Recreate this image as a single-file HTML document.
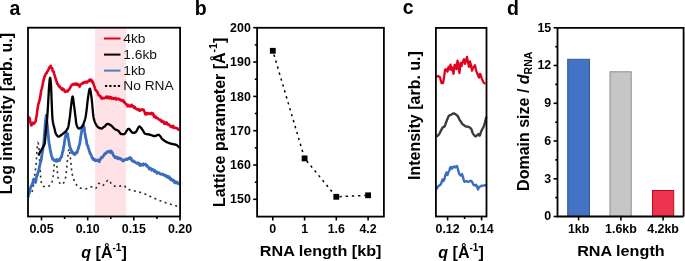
<!DOCTYPE html>
<html><head><meta charset="utf-8"><style>
html,body{margin:0;padding:0;background:#fff;}
svg{display:block;will-change:transform;filter:blur(0.3px);font-family:"Liberation Sans", sans-serif;}
</style></head><body>
<svg width="685" height="261" viewBox="0 0 685 261">
<rect x="95.1" y="27.7" width="30.9" height="188.8" fill="#fee2e5"/>
<polyline points="32.00,192.00 32.30,190.98 32.60,189.74 32.90,188.31 33.20,186.72 33.50,185.00 33.80,183.01 34.10,180.68 34.40,178.14 34.70,175.53 35.00,173.00 35.30,170.73 35.60,168.56 35.90,166.11 36.20,163.00 36.50,157.82 36.80,152.65 37.10,148.46 37.40,145.96 37.70,143.99 38.00,142.88 38.30,143.24 38.60,145.19 38.90,148.00 39.20,153.05 39.50,158.78 39.80,164.19 40.10,169.32 40.40,173.66 40.70,177.41 41.00,180.06 41.30,182.19 41.60,183.93 41.90,185.02 42.20,185.44 42.50,185.73 42.80,185.97 43.10,186.16 43.40,186.30 43.70,186.42 44.00,186.50 44.30,186.57 44.60,186.64 44.90,186.70 45.20,186.76 45.50,186.81 45.80,186.85 46.10,186.88 46.40,186.89 46.70,186.90 47.00,186.88 47.30,186.81 47.60,186.71 47.90,186.58 48.20,186.43 48.50,186.27 48.80,186.11 49.10,185.95 49.40,185.79 49.70,185.61 50.00,185.42 50.30,185.20 50.60,184.95 50.90,184.64 51.20,184.28 51.50,183.83 51.80,183.04 52.10,181.90 52.40,180.46 52.70,178.80 53.00,176.90 53.30,174.06 53.60,171.00 53.90,167.88 54.20,165.10 54.50,163.55 54.80,162.28 55.10,161.33 55.40,160.84 55.70,160.94 56.00,161.61 56.30,162.69 56.60,164.00 56.90,166.40 57.20,169.88 57.50,173.00 57.80,175.51 58.10,177.89 58.40,179.75 58.70,180.75 59.00,181.46 59.30,182.11 59.60,182.69 59.90,183.20 60.20,183.64 60.50,184.00 60.80,184.28 61.10,184.47 61.40,184.58 61.70,184.59 62.00,184.50 62.30,184.30 62.60,184.03 62.90,183.71 63.20,183.36 63.50,183.00 63.80,182.62 64.10,182.18 64.40,181.64 64.70,180.99 65.00,180.20 65.30,179.08 65.60,177.26 65.90,175.03 66.20,172.72 66.50,170.10 66.80,167.20 67.10,163.81 67.40,160.50 67.70,157.84 68.00,155.47 68.30,153.22 68.60,150.68 68.90,148.94 69.20,149.22 69.50,151.00 69.80,153.29 70.10,155.43 70.40,157.84 70.70,160.50 71.00,163.62 71.30,166.80 71.60,169.78 71.90,172.37 72.20,174.02 72.50,175.33 72.80,176.42 73.10,177.37 73.40,178.24 73.70,179.08 74.00,179.91 74.30,180.71 74.60,181.47 74.90,182.18 75.20,182.82 75.50,183.38 75.80,183.86 76.10,184.26 76.40,184.65 76.70,185.02 77.00,185.39 77.30,185.73 77.60,186.06 77.90,186.38 78.20,186.67 78.50,186.94 78.80,187.19 79.10,187.41 79.40,187.61 79.70,187.78 80.00,187.92 80.30,188.03 80.60,188.10 80.90,188.16 81.20,188.21 81.50,188.26 81.80,188.31 82.10,188.36 82.40,188.40 82.70,188.44 83.00,188.48 83.30,188.52 83.60,188.55 83.90,188.58 84.20,188.61 84.50,188.63 84.80,188.65 85.10,188.67 85.40,188.68 85.70,188.69 86.00,188.70 86.30,188.70 86.60,188.69 86.90,188.64 87.20,188.56 87.50,188.45 87.80,188.32 88.10,188.16 88.40,188.00 88.70,187.83 89.00,187.66 89.30,187.49 89.60,187.33 89.90,187.19 90.20,187.07 90.50,186.98 90.80,186.92 91.10,186.90 91.40,186.92 91.70,186.98 92.00,187.07 92.30,187.19 92.60,187.33 92.90,187.48 93.20,187.65 93.50,187.81 93.80,187.97 94.10,188.12 94.40,188.25 94.70,188.36 95.00,188.44 95.30,188.49 95.60,188.49 95.90,188.28 96.20,187.87 96.50,187.32 96.80,186.66 97.10,185.95 97.40,185.24 97.70,184.58 98.00,184.03 98.30,183.62 98.60,183.41 98.90,183.42 99.20,183.53 99.50,183.72 99.80,183.96 100.10,184.24 100.40,184.55 100.70,184.86 101.00,185.15 101.30,185.41 101.60,185.61 101.90,185.75 102.20,185.80 102.50,185.74 102.80,185.56 103.10,185.29 103.40,184.96 103.70,184.57 104.00,184.15 104.30,183.72 104.60,183.30 104.90,182.92 105.20,182.58 105.50,182.32 105.80,182.06 106.10,181.79 106.40,181.52 106.70,181.25 107.00,180.99 107.30,180.75 107.60,180.53 107.90,180.34 108.20,180.19 108.50,180.08 108.80,180.01 109.10,180.01 109.40,180.21 109.70,180.59 110.00,181.11 110.30,181.74 110.60,182.41 110.90,183.08 111.20,183.70 111.50,184.24 111.80,184.64 112.10,184.86 112.40,185.03 112.70,185.19 113.00,185.35 113.30,185.50 113.60,185.65 113.90,185.78 114.20,185.91 114.50,186.02 114.80,186.13 115.10,186.23 115.40,186.32 115.70,186.39 116.00,186.46 116.30,186.51 116.60,186.55 116.90,186.58 117.20,186.60 117.50,186.60 117.80,186.58 118.10,186.55 118.40,186.51 118.70,186.46 119.00,186.39 119.30,186.32 119.60,186.23 119.90,186.15 120.20,186.06 120.50,185.97 120.80,185.88 121.10,185.79 121.40,185.71 121.70,185.63 122.00,185.57 122.30,185.51 122.60,185.46 122.90,185.42 123.20,185.40 123.50,185.41 123.80,185.48 124.10,185.64 124.40,185.86 124.70,186.13 125.00,186.45 125.30,186.79 125.60,187.16 125.90,187.52 126.20,187.88 126.50,188.21 126.80,188.51 127.10,188.76 127.40,188.95 127.70,189.09 128.00,189.21 128.30,189.32 128.60,189.43 128.90,189.53 129.20,189.63 129.50,189.72 129.80,189.80 130.10,189.88 130.40,189.96 130.70,190.04 131.00,190.11 131.30,190.18 131.60,190.25 131.90,190.32 132.20,190.39 132.50,190.46 132.80,190.53 133.10,190.60 133.40,190.67 133.70,190.75 134.00,190.83 134.30,190.90 134.60,190.97 134.90,191.04 135.20,191.11 135.50,191.18 135.80,191.25 136.10,191.32 136.40,191.39 136.70,191.46 137.00,191.53 137.30,191.60 137.60,191.67 137.90,191.74 138.20,191.82 138.50,191.89 138.80,191.97 139.10,192.05 139.40,192.14 139.70,192.22 140.00,192.31 140.30,192.39 140.60,192.48 140.90,192.57 141.20,192.66 141.50,192.75 141.80,192.84 142.10,192.94 142.40,193.03 142.70,193.13 143.00,193.23 143.30,193.34 143.60,193.44 143.90,193.55 144.20,193.66 144.50,193.78 144.80,193.90 145.10,194.03 145.40,194.16 145.70,194.30 146.00,194.44 146.30,194.59 146.60,194.74 146.90,194.88 147.20,195.03 147.50,195.18 147.80,195.33 148.10,195.47 148.40,195.62 148.70,195.76 149.00,195.89 149.30,196.02 149.60,196.16 149.90,196.29 150.20,196.43 150.50,196.56 150.80,196.70 151.10,196.83 151.40,196.97 151.70,197.10 152.00,197.24 152.30,197.37 152.60,197.51 152.90,197.64 153.20,197.78 153.50,197.91 153.80,198.05 154.10,198.18 154.40,198.31 154.70,198.45 155.00,198.58 155.30,198.71 155.60,198.84 155.90,198.97 156.20,199.10 156.50,199.23 156.80,199.36 157.10,199.49 157.40,199.62 157.70,199.74 158.00,199.87 158.30,200.00 158.60,200.12 158.90,200.24 159.20,200.37 159.50,200.49 159.80,200.61 160.10,200.73 160.40,200.85 160.70,200.96 161.00,201.08 161.30,201.20 161.60,201.31 161.90,201.42 162.20,201.53 162.50,201.64 162.80,201.75 163.10,201.86 163.40,201.97 163.70,202.07 164.00,202.17 164.30,202.28 164.60,202.38 164.90,202.48 165.20,202.58 165.50,202.69 165.80,202.79 166.10,202.89 166.40,202.99 166.70,203.09 167.00,203.19 167.30,203.28 167.60,203.38 167.90,203.48 168.20,203.57 168.50,203.67 168.80,203.76 169.10,203.86 169.40,203.95 169.70,204.05 170.00,204.14 170.30,204.23 170.60,204.32 170.90,204.41 171.20,204.50 171.50,204.59 171.80,204.68 172.10,204.77 172.40,204.85 172.70,204.94 173.00,205.02 173.30,205.11 173.60,205.19 173.90,205.27 174.20,205.36 174.50,205.44 174.80,205.52 175.10,205.60 175.40,205.68 175.70,205.76 176.00,205.83 176.30,205.91 176.60,205.99 176.90,206.06 177.20,206.14 177.50,206.21 177.80,206.28 178.10,206.35" fill="none" stroke="#2a2a2a" stroke-width="1.6" stroke-dasharray="2 3.5"/>
<polyline points="28.20,197.02 28.70,193.58 29.20,193.61 29.70,191.00 30.20,188.74 30.70,187.50 31.20,185.89 31.70,185.79 32.20,183.71 32.70,183.72 33.20,180.38 33.70,179.15 34.20,179.45 34.70,180.11 35.20,181.63 35.70,182.41 36.20,178.24 36.70,176.13 37.20,175.46 37.70,173.49 38.20,172.00 38.70,170.89 39.20,168.35 39.70,165.55 40.20,163.36 40.70,161.59 41.20,160.15 41.70,156.30 42.20,152.91 42.70,150.28 43.20,146.43 43.70,142.93 44.20,137.38 44.70,130.70 45.20,124.09 45.70,119.16 46.20,115.32 46.70,120.75 47.20,124.31 47.70,129.12 48.20,135.10 48.70,140.23 49.20,143.78 49.70,146.55 50.20,149.71 50.70,151.87 51.20,154.60 51.70,156.22 52.20,157.66 52.70,159.39 53.20,159.38 53.70,159.38 54.20,160.45 54.70,160.71 55.20,160.51 55.70,160.35 56.20,160.91 56.70,159.55 57.20,161.11 57.70,160.96 58.20,159.83 58.70,160.59 59.20,159.95 59.70,160.38 60.20,158.24 60.70,157.82 61.20,157.47 61.70,156.41 62.20,153.26 62.70,151.95 63.20,149.81 63.70,146.64 64.20,144.64 64.70,140.21 65.20,137.99 65.70,135.14 66.20,134.75 66.70,133.12 67.20,133.36 67.70,134.10 68.20,137.74 68.70,140.53 69.20,143.41 69.70,146.03 70.20,147.67 70.70,148.88 71.20,150.20 71.70,151.12 72.20,152.98 72.70,152.26 73.20,153.28 73.70,153.85 74.20,154.37 74.70,154.57 75.20,153.44 75.70,152.79 76.20,153.09 76.70,153.04 77.20,152.02 77.70,150.45 78.20,148.64 78.70,147.38 79.20,145.38 79.70,143.87 80.20,140.33 80.70,137.33 81.20,133.94 81.70,131.12 82.20,127.70 82.70,126.31 83.20,124.75 83.70,126.11 84.20,127.51 84.70,131.99 85.20,134.76 85.70,138.03 86.20,139.21 86.70,143.19 87.20,145.03 87.70,145.59 88.20,147.36 88.70,148.92 89.20,150.68 89.70,152.18 90.20,153.97 90.70,153.94 91.20,155.50 91.70,156.24 92.20,158.01 92.70,158.37 93.20,159.43 93.70,158.79 94.20,159.64 94.70,159.52 95.20,160.79 95.70,160.46 96.20,160.07 96.70,160.08 97.20,160.61 97.70,160.07 98.20,160.00 98.70,160.73 99.20,161.73 99.70,160.23 100.20,159.55 100.70,158.53 101.20,157.71 101.70,158.04 102.20,157.63 102.70,156.62 103.20,156.21 103.70,155.54 104.20,155.03 104.70,153.73 105.20,153.81 105.70,153.62 106.20,152.69 106.70,152.38 107.20,151.79 107.70,151.68 108.20,152.00 108.70,151.22 109.20,151.33 109.70,151.87 110.20,151.90 110.70,152.58 111.20,150.88 111.70,152.61 112.20,152.49 112.70,153.56 113.20,154.78 113.70,155.78 114.20,156.54 114.70,156.67 115.20,157.70 115.70,156.94 116.20,157.17 116.70,157.77 117.20,157.21 117.70,158.67 118.20,158.21 118.70,158.92 119.20,157.99 119.70,158.03 120.20,158.59 120.70,159.20 121.20,158.88 121.70,159.70 122.20,159.82 122.70,160.90 123.20,159.96 123.70,160.91 124.20,160.06 124.70,159.78 125.20,159.69 125.70,159.18 126.20,159.54 126.70,159.65 127.20,158.89 127.70,158.82 128.20,159.07 128.70,158.22 129.20,158.10 129.70,157.95 130.20,157.58 130.70,159.21 131.20,158.48 131.70,160.20 132.20,160.32 132.70,161.25 133.20,161.00 133.70,160.97 134.20,161.90 134.70,161.77 135.20,162.28 135.70,162.69 136.20,162.88 136.70,163.12 137.20,163.03 137.70,163.59 138.20,162.85 138.70,164.08 139.20,163.79 139.70,165.16 140.20,165.42 140.70,163.96 141.20,165.11 141.70,165.03 142.20,164.56 142.70,165.26 143.20,164.63 143.70,163.83 144.20,164.45 144.70,164.43 145.20,164.59 145.70,164.16 146.20,165.48 146.70,166.04 147.20,165.67 147.70,166.50 148.20,167.33 148.70,167.55 149.20,169.03 149.70,168.50 150.20,168.09 150.70,168.38 151.20,168.91 151.70,170.24 152.20,169.17 152.70,169.50 153.20,169.90 153.70,169.87 154.20,171.35 154.70,170.42 155.20,171.61 155.70,171.84 156.20,172.46 156.70,171.80 157.20,173.47 157.70,172.69 158.20,172.92 158.70,172.57 159.20,172.80 159.70,173.56 160.20,173.89 160.70,173.89 161.20,174.25 161.70,174.15 162.20,173.98 162.70,174.57 163.20,174.65 163.70,174.52 164.20,175.16 164.70,175.67 165.20,175.39 165.70,175.35 166.20,176.15 166.70,177.02 167.20,176.24 167.70,176.59 168.20,176.87 168.70,177.87 169.20,176.69 169.70,178.18 170.20,179.00 170.70,178.41 171.20,179.98 171.70,179.91 172.20,179.76 172.70,180.50 173.20,179.96 173.70,180.77 174.20,182.28 174.70,181.23 175.20,182.90 175.70,182.24 176.20,183.06 176.70,182.87 177.20,182.00 177.70,183.10 178.20,183.73 178.70,183.30 179.20,183.44" fill="none" stroke="#3a6cc0" stroke-width="2.8" stroke-linejoin="round"/>
<polyline points="38.50,155.39 38.80,154.57 39.10,153.90 39.40,153.31 39.70,152.69 40.00,152.03 40.30,151.41 40.60,150.96 40.90,150.66 41.20,150.32 41.50,149.78 41.80,149.19 42.10,148.78 42.40,148.46 42.70,147.91 43.00,147.28 43.30,146.76 43.60,146.20 43.90,145.66 44.20,145.07 44.50,144.29 44.80,142.95 45.10,140.31 45.40,136.91 45.70,133.36 46.00,130.02 46.30,127.04 46.60,124.25 46.90,121.33 47.20,117.90 47.50,113.62 47.80,108.64 48.10,103.40 48.40,98.22 48.70,92.68 49.00,87.53 49.30,83.74 49.60,80.47 49.90,78.17 50.20,77.79 50.50,79.56 50.80,82.57 51.10,86.55 51.40,94.47 51.70,102.42 52.00,110.40 52.30,116.70 52.60,119.57 52.90,121.69 53.20,123.40 53.50,124.72 53.80,125.87 54.10,127.09 54.40,128.29 54.70,129.47 55.00,130.69 55.30,131.87 55.60,132.90 55.90,133.74 56.20,134.31 56.50,134.72 56.80,135.12 57.10,135.45 57.40,135.86 57.70,136.23 58.00,136.42 58.30,136.54 58.60,136.63 58.90,136.60 59.20,136.47 59.50,136.33 59.80,136.18 60.10,135.95 60.40,135.71 60.70,135.49 61.00,135.16 61.30,134.85 61.60,134.73 61.90,134.63 62.20,134.38 62.50,134.06 62.80,133.86 63.10,133.68 63.40,133.38 63.70,133.12 64.00,132.92 64.30,132.62 64.60,132.34 64.90,132.07 65.20,131.76 65.50,131.52 65.80,131.26 66.10,130.83 66.40,130.34 66.70,129.95 67.00,129.62 67.30,129.21 67.60,128.66 67.90,127.99 68.20,127.12 68.50,125.79 68.80,124.12 69.10,122.20 69.40,120.10 69.70,118.06 70.00,115.82 70.30,112.99 70.60,110.07 70.90,107.46 71.20,105.06 71.50,102.67 71.80,100.34 72.10,98.25 72.40,96.82 72.70,96.57 73.00,97.61 73.30,99.60 73.60,102.00 73.90,104.32 74.20,106.53 74.50,108.89 74.80,111.27 75.10,113.80 75.40,116.32 75.70,118.72 76.00,121.53 76.30,123.87 76.60,124.89 76.90,125.65 77.20,126.38 77.50,127.04 77.80,127.56 78.10,127.97 78.40,128.25 78.70,128.46 79.00,128.58 79.30,128.50 79.60,128.37 79.90,128.23 80.20,128.01 80.50,127.87 80.80,127.77 81.10,127.61 81.40,127.37 81.70,126.98 82.00,126.66 82.30,126.49 82.60,126.00 82.90,125.31 83.20,124.69 83.50,123.85 83.80,122.89 84.10,122.05 84.40,121.26 84.70,120.39 85.00,119.37 85.30,118.25 85.60,116.96 85.90,115.24 86.20,113.13 86.50,110.83 86.80,108.32 87.10,105.57 87.40,102.75 87.70,100.18 88.00,97.92 88.30,95.93 88.60,93.96 88.90,92.04 89.20,90.47 89.50,89.19 89.80,88.60 90.10,89.15 90.40,90.35 90.70,91.89 91.00,93.88 91.30,95.97 91.60,98.27 91.90,101.06 92.20,104.20 92.50,107.60 92.80,111.01 93.10,113.97 93.40,116.24 93.70,118.01 94.00,119.38 94.30,120.35 94.60,121.21 94.90,122.10 95.20,122.87 95.50,123.50 95.80,123.99 96.10,124.46 96.40,125.03 96.70,125.61 97.00,126.10 97.30,126.39 97.60,126.61 97.90,127.00 98.20,127.41 98.50,127.52 98.80,127.56 99.10,127.76 99.40,128.02 99.70,128.15 100.00,128.19 100.30,128.31 100.60,128.39 100.90,128.35 101.20,128.42 101.50,128.58 101.80,128.54 102.10,128.33 102.40,128.13 102.70,127.92 103.00,127.64 103.30,127.34 103.60,127.08 103.90,126.88 104.20,126.80 104.50,126.67 104.80,126.33 105.10,126.02 105.40,125.70 105.70,125.31 106.00,124.91 106.30,124.51 106.60,124.33 106.90,124.15 107.20,123.85 107.50,123.86 107.80,124.04 108.10,124.04 108.40,124.02 108.70,124.12 109.00,124.29 109.30,124.50 109.60,124.63 109.90,124.70 110.20,124.82 110.50,125.06 110.80,125.31 111.10,125.49 111.40,125.69 111.70,125.88 112.00,126.11 112.30,126.50 112.60,126.96 112.90,127.30 113.20,127.53 113.50,127.84 113.80,128.23 114.10,128.54 114.40,128.75 114.70,128.96 115.00,129.18 115.30,129.38 115.60,129.56 115.90,129.73 116.20,129.86 116.50,129.92 116.80,129.96 117.10,130.10 117.40,130.27 117.70,130.43 118.00,130.67 118.30,130.92 118.60,131.06 118.90,131.38 119.20,131.91 119.50,132.37 119.80,132.70 120.10,133.08 120.40,133.55 120.70,133.87 121.00,133.99 121.30,134.12 121.60,134.19 121.90,134.18 122.20,134.13 122.50,134.15 122.80,134.25 123.10,134.25 123.40,134.21 123.70,134.12 124.00,134.04 124.30,134.03 124.60,133.87 124.90,133.56 125.20,133.18 125.50,132.76 125.80,132.33 126.10,131.78 126.40,131.21 126.70,130.74 127.00,130.36 127.30,129.95 127.60,129.45 127.90,129.10 128.20,128.95 128.50,128.83 128.80,128.85 129.10,128.92 129.40,129.03 129.70,129.34 130.00,129.80 130.30,130.24 130.60,130.65 130.90,131.19 131.20,131.68 131.50,131.93 131.80,132.15 132.10,132.43 132.40,132.67 132.70,132.85 133.00,132.87 133.30,132.86 133.60,132.80 133.90,132.60 134.20,132.60 134.50,132.73 134.80,132.61 135.10,132.37 135.40,132.22 135.70,132.09 136.00,131.84 136.30,131.40 136.60,130.89 136.90,130.38 137.20,129.78 137.50,129.13 137.80,128.53 138.10,127.97 138.40,127.47 138.70,127.00 139.00,126.57 139.30,126.45 139.60,126.54 139.90,126.63 140.20,126.86 140.50,127.22 140.80,127.58 141.10,127.90 141.40,128.23 141.70,128.71 142.00,129.17 142.30,129.57 142.60,130.00 142.90,130.44 143.20,130.98 143.50,131.66 143.80,132.23 144.10,132.66 144.40,133.06 144.70,133.39 145.00,133.58 145.30,133.71 145.60,133.83 145.90,133.93 146.20,134.07 146.50,134.18 146.80,134.20 147.10,134.17 147.40,134.23 147.70,134.34 148.00,134.38 148.30,134.32 148.60,134.18 148.90,134.24 149.20,134.51 149.50,134.72 149.80,134.83 150.10,134.87 150.40,134.87 150.70,134.87 151.00,134.94 151.30,135.11 151.60,135.24 151.90,135.37 152.20,135.50 152.50,135.63 152.80,135.73 153.10,135.75 153.40,135.77 153.70,135.82 154.00,135.97 154.30,136.09 154.60,136.08 154.90,136.08 155.20,136.04 155.50,135.94 155.80,135.78 156.10,135.58 156.40,135.53 156.70,135.46 157.00,135.24 157.30,135.06 157.60,134.96 157.90,134.87 158.20,134.84 158.50,134.87 158.80,134.78 159.10,134.85 159.40,135.23 159.70,135.57 160.00,135.88 160.30,136.25 160.60,136.64 160.90,137.12 161.20,137.67 161.50,138.17 161.80,138.56 162.10,138.84 162.40,139.05 162.70,139.36 163.00,139.74 163.30,140.00 163.60,140.12 163.90,140.34 164.20,140.68 164.50,140.92 164.80,141.04 165.10,141.12 165.40,141.31 165.70,141.54 166.00,141.68 166.30,141.83 166.60,142.09 166.90,142.27 167.20,142.31 167.50,142.36 167.80,142.55 168.10,142.70 168.40,142.72 168.70,142.87 169.00,143.02 169.30,143.08 169.60,143.19 169.90,143.31 170.20,143.45 170.50,143.53 170.80,143.64 171.10,143.80 171.40,143.88 171.70,143.86 172.00,143.80 172.30,143.88 172.60,144.10 172.90,144.20 173.20,144.23 173.50,144.25 173.80,144.25 174.10,144.28 174.40,144.34 174.70,144.43 175.00,144.48 175.30,144.53 175.60,144.72 175.90,144.85 176.20,144.82 176.50,144.92 176.80,145.14 177.10,145.35 177.40,145.63 177.70,145.87 178.00,146.11 178.30,146.52 178.60,146.95 178.90,147.29 179.20,147.60" fill="none" stroke="#000" stroke-width="2.3" stroke-linejoin="round"/>
<polyline points="28.20,116.80 28.70,117.32 29.20,117.78 29.70,118.57 30.20,121.23 30.70,123.54 31.20,125.33 31.70,125.28 32.20,123.04 32.70,122.68 33.20,123.49 33.70,123.64 34.20,123.50 34.70,122.37 35.20,121.91 35.70,121.02 36.20,117.75 36.70,115.63 37.20,111.30 37.70,107.85 38.20,104.49 38.70,103.39 39.20,101.10 39.70,99.80 40.20,97.22 40.70,94.34 41.20,90.36 41.70,88.90 42.20,86.76 42.70,84.49 43.20,81.38 43.70,79.95 44.20,77.76 44.70,76.12 45.20,75.78 45.70,73.76 46.20,73.37 46.70,73.15 47.20,71.63 47.70,71.11 48.20,70.29 48.70,69.25 49.20,67.56 49.70,67.44 50.20,67.57 50.70,65.75 51.20,67.36 51.70,67.71 52.20,68.36 52.70,71.06 53.20,71.64 53.70,71.79 54.20,73.92 54.70,75.78 55.20,76.99 55.70,79.06 56.20,80.10 56.70,81.82 57.20,83.56 57.70,83.63 58.20,85.16 58.70,85.58 59.20,86.54 59.70,86.38 60.20,87.21 60.70,87.87 61.20,88.88 61.70,89.40 62.20,88.41 62.70,89.06 63.20,90.24 63.70,89.20 64.20,90.42 64.70,90.93 65.20,91.86 65.70,91.57 66.20,90.95 66.70,90.80 67.20,90.70 67.70,91.47 68.20,90.15 68.70,89.79 69.20,89.56 69.70,88.60 70.20,87.82 70.70,86.57 71.20,86.15 71.70,84.82 72.20,84.89 72.70,84.36 73.20,83.99 73.70,84.37 74.20,83.81 74.70,84.58 75.20,84.01 75.70,84.44 76.20,83.61 76.70,84.77 77.20,83.93 77.70,84.01 78.20,85.18 78.70,84.98 79.20,85.57 79.70,86.56 80.20,84.56 80.70,84.28 81.20,84.29 81.70,83.99 82.20,83.22 82.70,82.88 83.20,83.19 83.70,82.99 84.20,82.07 84.70,82.55 85.20,82.56 85.70,81.89 86.20,82.52 86.70,81.73 87.20,82.50 87.70,81.78 88.20,81.41 88.70,80.75 89.20,80.77 89.70,79.56 90.20,79.98 90.70,80.88 91.20,79.74 91.70,81.74 92.20,80.79 92.70,82.72 93.20,82.49 93.70,84.74 94.20,86.22 94.70,86.92 95.20,89.48 95.70,90.41 96.20,90.34 96.70,91.02 97.20,91.96 97.70,92.45 98.20,94.53 98.70,94.51 99.20,95.56 99.70,95.78 100.20,96.32 100.70,96.35 101.20,98.11 101.70,97.66 102.20,98.56 102.70,98.25 103.20,97.98 103.70,98.22 104.20,98.00 104.70,98.14 105.20,97.69 105.70,97.49 106.20,96.67 106.70,96.82 107.20,98.11 107.70,96.86 108.20,96.73 108.70,97.62 109.20,98.35 109.70,96.95 110.20,97.80 110.70,97.74 111.20,97.26 111.70,98.75 112.20,98.42 112.70,98.53 113.20,98.13 113.70,98.84 114.20,98.33 114.70,98.59 115.20,98.09 115.70,98.07 116.20,99.52 116.70,98.55 117.20,99.05 117.70,98.94 118.20,98.79 118.70,98.86 119.20,99.62 119.70,99.27 120.20,99.53 120.70,99.82 121.20,100.67 121.70,100.62 122.20,100.71 122.70,100.49 123.20,100.37 123.70,102.02 124.20,102.41 124.70,102.20 125.20,102.98 125.70,103.66 126.20,104.33 126.70,105.04 127.20,104.86 127.70,106.33 128.20,104.91 128.70,106.07 129.20,105.87 129.70,106.08 130.20,106.63 130.70,106.42 131.20,104.97 131.70,104.80 132.20,106.45 132.70,105.82 133.20,106.80 133.70,107.71 134.20,106.76 134.70,106.84 135.20,108.45 135.70,108.65 136.20,108.83 136.70,109.32 137.20,109.13 137.70,109.05 138.20,110.02 138.70,109.75 139.20,109.48 139.70,110.67 140.20,110.31 140.70,110.47 141.20,109.58 141.70,109.64 142.20,109.34 142.70,109.33 143.20,109.92 143.70,109.81 144.20,111.28 144.70,112.30 145.20,114.21 145.70,113.03 146.20,114.49 146.70,113.92 147.20,113.89 147.70,113.01 148.20,113.45 148.70,114.00 149.20,113.46 149.70,113.48 150.20,113.24 150.70,114.09 151.20,113.66 151.70,112.79 152.20,114.05 152.70,113.82 153.20,113.61 153.70,115.58 154.20,117.02 154.70,116.65 155.20,116.28 155.70,116.69 156.20,118.10 156.70,117.83 157.20,118.05 157.70,118.28 158.20,118.65 158.70,119.42 159.20,119.65 159.70,119.84 160.20,119.54 160.70,120.77 161.20,120.49 161.70,121.82 162.20,120.84 162.70,121.76 163.20,122.10 163.70,121.64 164.20,123.57 164.70,123.67 165.20,122.85 165.70,123.77 166.20,123.81 166.70,122.42 167.20,124.25 167.70,124.34 168.20,124.68 168.70,124.30 169.20,125.00 169.70,125.30 170.20,126.30 170.70,126.06 171.20,126.10 171.70,127.16 172.20,126.21 172.70,126.49 173.20,125.87 173.70,127.90 174.20,127.74 174.70,127.89 175.20,127.95 175.70,127.84 176.20,128.10 176.70,128.05 177.20,128.29 177.70,128.65 178.20,129.67 178.70,129.38 179.20,129.27" fill="none" stroke="#e3001f" stroke-width="2.6" stroke-linejoin="round"/>
<line x1="104" x2="120.5" y1="38.5" y2="38.5" stroke="#e3001f" stroke-width="2"/>
<text transform="translate(123.3,42.5) scale(1.05,1)" font-size="13.1" fill="#111">4kb</text>
<line x1="104" x2="120.5" y1="54.6" y2="54.6" stroke="#000000" stroke-width="2"/>
<text transform="translate(123.3,58.6) scale(1.05,1)" font-size="13.1" fill="#111">1.6kb</text>
<line x1="104" x2="120.5" y1="70.6" y2="70.6" stroke="#4a7cc4" stroke-width="2"/>
<text transform="translate(123.3,74.6) scale(1.05,1)" font-size="13.1" fill="#111">1kb</text>
<line x1="105" x2="120.2" y1="86.0" y2="86.0" stroke="#000" stroke-width="2" stroke-dasharray="2.2 2.1"/>
<text transform="translate(123.3,89.8) scale(1.05,1)" font-size="13.1" fill="#111">No RNA</text>
<rect x="28.0" y="27.7" width="152.1" height="188.8" fill="none" stroke="#000" stroke-width="1.8"/>
<line x1="41.5" x2="41.5" y1="216.5" y2="220.4" stroke="#000" stroke-width="1.6"/>
<text x="41.5" y="232.6" font-size="12.4" font-weight="bold" text-anchor="middle">0.05</text>
<line x1="87.7" x2="87.7" y1="216.5" y2="220.4" stroke="#000" stroke-width="1.6"/>
<text x="87.7" y="232.6" font-size="12.4" font-weight="bold" text-anchor="middle">0.10</text>
<line x1="133.8" x2="133.8" y1="216.5" y2="220.4" stroke="#000" stroke-width="1.6"/>
<text x="133.8" y="232.6" font-size="12.4" font-weight="bold" text-anchor="middle">0.15</text>
<line x1="180.0" x2="180.0" y1="216.5" y2="220.4" stroke="#000" stroke-width="1.6"/>
<text x="180.0" y="232.6" font-size="12.4" font-weight="bold" text-anchor="middle">0.20</text>
<line x1="64.6" x2="64.6" y1="216.5" y2="219.0" stroke="#000" stroke-width="1.6"/>
<line x1="110.8" x2="110.8" y1="216.5" y2="219.0" stroke="#000" stroke-width="1.6"/>
<line x1="156.9" x2="156.9" y1="216.5" y2="219.0" stroke="#000" stroke-width="1.6"/>
<text x="104" y="258" font-size="16.1" font-weight="bold" text-anchor="middle"><tspan font-style="italic">q</tspan> [Å<tspan font-size="10" dy="-7.5">-1</tspan><tspan dy="7.5">]</tspan></text>
<text transform="translate(11.7,113.6) rotate(-90)" font-size="15.85" font-weight="bold" text-anchor="middle">Log intensity [arb. u.]</text>
<text x="9.5" y="14.5" font-size="19.5" font-weight="bold">a</text>
<rect x="257.1" y="27.8" width="126.8" height="188.8" fill="none" stroke="#000" stroke-width="1.8"/>
<line x1="253.20000000000002" x2="257.1" y1="199.3" y2="199.3" stroke="#000" stroke-width="1.6"/>
<text x="250.8" y="203.4" font-size="12.4" font-weight="bold" text-anchor="end">150</text>
<line x1="253.20000000000002" x2="257.1" y1="165.0" y2="165.0" stroke="#000" stroke-width="1.6"/>
<text x="250.8" y="169.1" font-size="12.4" font-weight="bold" text-anchor="end">160</text>
<line x1="253.20000000000002" x2="257.1" y1="130.7" y2="130.7" stroke="#000" stroke-width="1.6"/>
<text x="250.8" y="134.8" font-size="12.4" font-weight="bold" text-anchor="end">170</text>
<line x1="253.20000000000002" x2="257.1" y1="96.4" y2="96.4" stroke="#000" stroke-width="1.6"/>
<text x="250.8" y="100.5" font-size="12.4" font-weight="bold" text-anchor="end">180</text>
<line x1="253.20000000000002" x2="257.1" y1="62.0" y2="62.0" stroke="#000" stroke-width="1.6"/>
<text x="250.8" y="66.1" font-size="12.4" font-weight="bold" text-anchor="end">190</text>
<line x1="253.20000000000002" x2="257.1" y1="27.7" y2="27.7" stroke="#000" stroke-width="1.6"/>
<text x="250.8" y="31.8" font-size="12.4" font-weight="bold" text-anchor="end">200</text>
<line x1="254.8" x2="257.1" y1="182.2" y2="182.2" stroke="#000" stroke-width="1.6"/>
<line x1="254.8" x2="257.1" y1="147.8" y2="147.8" stroke="#000" stroke-width="1.6"/>
<line x1="254.8" x2="257.1" y1="113.5" y2="113.5" stroke="#000" stroke-width="1.6"/>
<line x1="254.8" x2="257.1" y1="79.2" y2="79.2" stroke="#000" stroke-width="1.6"/>
<line x1="254.8" x2="257.1" y1="44.9" y2="44.9" stroke="#000" stroke-width="1.6"/>
<line x1="272.8" x2="272.8" y1="216.6" y2="220.5" stroke="#000" stroke-width="1.6"/>
<text x="272.8" y="232.6" font-size="12.4" font-weight="bold" text-anchor="middle">0</text>
<line x1="304.6" x2="304.6" y1="216.6" y2="220.5" stroke="#000" stroke-width="1.6"/>
<text x="304.6" y="232.6" font-size="12.4" font-weight="bold" text-anchor="middle">1</text>
<line x1="336.3" x2="336.3" y1="216.6" y2="220.5" stroke="#000" stroke-width="1.6"/>
<text x="336.3" y="232.6" font-size="12.4" font-weight="bold" text-anchor="middle">1.6</text>
<line x1="368.1" x2="368.1" y1="216.6" y2="220.5" stroke="#000" stroke-width="1.6"/>
<text x="368.1" y="232.6" font-size="12.4" font-weight="bold" text-anchor="middle">4.2</text>
<polyline points="272.8,50.8 304.6,158.4 336.3,196.8 368.1,195.3" fill="none" stroke="#000" stroke-width="1.5" stroke-dasharray="2.3 3.9" stroke-dashoffset="-4"/>
<rect x="269.9" y="47.9" width="5.8" height="5.8" fill="#000"/>
<rect x="301.7" y="155.5" width="5.8" height="5.8" fill="#000"/>
<rect x="333.4" y="193.9" width="5.8" height="5.8" fill="#000"/>
<rect x="365.2" y="192.4" width="5.8" height="5.8" fill="#000"/>
<text transform="translate(320.6,256.2) scale(1.045,1)" font-size="15.5" font-weight="bold" text-anchor="middle">RNA length [kb]</text>
<text transform="translate(225.3,122.4) rotate(-90)" font-size="16" font-weight="bold" text-anchor="middle">Lattice parameter [Å<tspan font-size="10.5" dy="-8">-1</tspan><tspan dy="8">]</tspan></text>
<text x="194.8" y="14.7" font-size="19.5" font-weight="bold">b</text>
<polyline points="436.50,76.80 438.00,76.00 440.00,77.30 441.50,83.00 443.00,83.00 444.00,77.60 445.00,70.00 446.00,69.20 447.50,71.50 448.50,66.90 449.50,69.20 450.50,64.60 451.50,70.00 452.50,67.60 453.50,73.80 454.50,65.30 455.50,64.60 456.50,69.20 457.50,60.70 458.50,66.90 459.50,73.00 460.50,63.00 461.50,66.10 462.50,62.30 464.00,59.20 465.00,63.80 466.00,60.70 467.00,56.90 468.00,62.30 469.00,66.90 470.00,61.50 471.00,65.30 472.00,70.70 473.00,67.60 474.00,66.90 475.00,65.30 476.00,70.00 477.00,73.00 478.00,75.30 479.00,77.60 480.00,73.80 481.00,76.00 482.00,79.10 483.00,81.40 484.00,83.00 485.50,83.70" fill="none" stroke="#e3001f" stroke-width="2.3" stroke-linejoin="round"/>
<polyline points="436.50,136.40 436.75,136.31 437.00,136.18 437.25,136.02 437.50,135.83 437.75,135.62 438.00,135.39 438.25,135.15 438.50,134.90 438.75,134.61 439.00,134.27 439.25,133.89 439.50,133.47 439.75,133.04 440.00,132.60 440.25,132.13 440.50,131.60 440.75,131.05 441.00,130.50 441.25,129.97 441.50,129.50 441.75,129.05 442.00,128.59 442.25,128.15 442.50,127.76 442.75,127.43 443.00,127.20 443.25,127.05 443.50,126.95 443.75,126.86 444.00,126.78 444.25,126.66 444.50,126.50 444.75,126.16 445.00,125.60 445.25,124.88 445.50,124.09 445.75,123.31 446.00,122.60 446.25,121.95 446.50,121.30 446.75,120.65 447.00,120.01 447.25,119.39 447.50,118.80 447.75,118.20 448.00,117.58 448.25,116.97 448.50,116.42 448.75,115.98 449.00,115.70 449.25,115.53 449.50,115.40 449.75,115.30 450.00,115.21 450.25,115.11 450.50,115.00 450.75,114.87 451.00,114.74 451.25,114.61 451.50,114.47 451.75,114.33 452.00,114.20 452.25,114.05 452.50,113.87 452.75,113.70 453.00,113.55 453.25,113.44 453.50,113.40 453.75,113.42 454.00,113.48 454.25,113.56 454.50,113.67 454.75,113.78 455.00,113.90 455.25,114.03 455.50,114.19 455.75,114.38 456.00,114.58 456.25,114.79 456.50,115.00 456.75,115.21 457.00,115.43 457.25,115.66 457.50,115.91 457.75,116.18 458.00,116.50 458.25,116.90 458.50,117.41 458.75,117.97 459.00,118.55 459.25,119.11 459.50,119.60 459.75,120.02 460.00,120.42 460.25,120.79 460.50,121.16 460.75,121.52 461.00,121.90 461.25,122.30 461.50,122.73 461.75,123.16 462.00,123.57 462.25,123.92 462.50,124.20 462.75,124.41 463.00,124.59 463.25,124.75 463.50,124.90 463.75,125.04 464.00,125.20 464.25,125.38 464.50,125.57 464.75,125.76 465.00,125.95 465.25,126.13 465.50,126.29 465.75,126.42 466.00,126.50 466.25,126.55 466.50,126.59 466.75,126.63 467.00,126.65 467.25,126.68 467.50,126.71 467.75,126.75 468.00,126.80 468.25,126.86 468.50,126.94 468.75,127.03 469.00,127.14 469.25,127.26 469.50,127.39 469.75,127.54 470.00,127.70 470.25,127.89 470.50,128.12 470.75,128.39 471.00,128.71 471.25,129.08 471.50,129.50 471.75,130.14 472.00,131.01 472.25,131.90 472.50,132.60 472.75,133.09 473.00,133.53 473.25,133.92 473.50,134.27 473.75,134.59 474.00,134.90 474.25,135.22 474.50,135.56 474.75,135.88 475.00,136.15 475.25,136.33 475.50,136.40 475.75,136.35 476.00,136.20 476.25,135.99 476.50,135.76 476.75,135.51 477.00,135.30 477.25,135.08 477.50,134.82 477.75,134.56 478.00,134.33 478.25,134.16 478.50,134.10 478.75,134.35 479.00,134.90 479.25,135.45 479.50,135.70 479.75,135.49 480.00,134.94 480.25,134.17 480.50,133.31 480.75,132.48 481.00,131.80 481.25,131.26 481.50,130.75 481.75,130.26 482.00,129.78 482.25,129.30 482.50,128.80 482.75,128.31 483.00,127.84 483.25,127.36 483.50,126.86 483.75,126.31 484.00,125.70 484.25,124.99 484.50,124.18 484.75,123.29 485.00,122.33 485.25,121.33 485.50,120.30 485.75,119.20 486.00,118.01 486.25,116.76" fill="none" stroke="#3c3c3c" stroke-width="2.4" stroke-linejoin="round"/>
<polyline points="436.50,189.40 437.50,187.10 439.00,185.60 440.50,184.80 441.50,182.50 442.50,179.50 443.50,181.00 444.50,178.70 445.50,174.90 446.50,172.60 447.50,174.90 448.50,171.80 449.50,170.30 450.00,168.00 451.00,166.90 452.00,168.70 453.00,167.20 454.00,166.40 455.00,167.50 456.00,166.40 457.00,166.00 458.00,169.50 459.00,173.30 460.00,174.90 461.00,175.60 462.00,174.10 463.00,177.20 464.00,181.00 465.00,181.80 466.50,181.00 468.00,181.80 469.50,181.30 471.00,180.70 472.00,181.80 473.50,184.80 475.00,185.60 476.00,184.80 477.00,186.40 478.00,189.40 479.00,187.10 480.50,186.40 482.00,185.60 483.50,185.60 485.00,185.30 486.30,184.80" fill="none" stroke="#3a6cc0" stroke-width="2.4" stroke-linejoin="round"/>
<rect x="435.9" y="27.9" width="50.6" height="188.6" fill="none" stroke="#000" stroke-width="1.8"/>
<line x1="447.6" x2="447.6" y1="216.5" y2="220.4" stroke="#000" stroke-width="1.6"/>
<text x="447.6" y="232.6" font-size="12.4" font-weight="bold" text-anchor="middle">0.12</text>
<line x1="481.6" x2="481.6" y1="216.5" y2="220.4" stroke="#000" stroke-width="1.6"/>
<text x="481.6" y="232.6" font-size="12.4" font-weight="bold" text-anchor="middle">0.14</text>
<line x1="464.6" x2="464.6" y1="216.5" y2="219.0" stroke="#000" stroke-width="1.6"/>
<text x="461" y="258" font-size="16.1" font-weight="bold" text-anchor="middle"><tspan font-style="italic">q</tspan> [Å<tspan font-size="10" dy="-7.5">-1</tspan><tspan dy="7.5">]</tspan></text>
<text transform="translate(420.2,115.6) rotate(-90)" font-size="16" font-weight="bold" text-anchor="middle">Intensity [arb. u.]</text>
<text x="402.8" y="14.4" font-size="19.5" font-weight="bold">c</text>
<rect x="567.7" y="59.3" width="21.8" height="157.2" fill="#4472c4" stroke="#2a5f94" stroke-width="1"/>
<rect x="610.0" y="71.8" width="21.2" height="144.7" fill="#c6c6c6" stroke="#8c8c8c" stroke-width="1"/>
<rect x="652.5" y="190.5" width="21.2" height="26.0" fill="#ee3350" stroke="#b80a1a" stroke-width="1"/>
<polyline points="557.5,27.8 683.6,27.8 683.6,216.5" fill="none" stroke="#000" stroke-width="1.8"/>
<polyline points="557.5,27.8 557.5,216.5 683.6,216.5" fill="none" stroke="#000" stroke-width="1.8"/>
<line x1="553.6" x2="557.5" y1="216.5" y2="216.5" stroke="#000" stroke-width="1.6"/>
<text x="551.2" y="220.3" font-size="12.4" font-weight="bold" text-anchor="end">0</text>
<line x1="553.6" x2="557.5" y1="178.8" y2="178.8" stroke="#000" stroke-width="1.6"/>
<text x="551.2" y="182.6" font-size="12.4" font-weight="bold" text-anchor="end">3</text>
<line x1="553.6" x2="557.5" y1="141.0" y2="141.0" stroke="#000" stroke-width="1.6"/>
<text x="551.2" y="144.8" font-size="12.4" font-weight="bold" text-anchor="end">6</text>
<line x1="553.6" x2="557.5" y1="103.3" y2="103.3" stroke="#000" stroke-width="1.6"/>
<text x="551.2" y="107.1" font-size="12.4" font-weight="bold" text-anchor="end">9</text>
<line x1="553.6" x2="557.5" y1="65.5" y2="65.5" stroke="#000" stroke-width="1.6"/>
<text x="551.2" y="69.3" font-size="12.4" font-weight="bold" text-anchor="end">12</text>
<line x1="553.6" x2="557.5" y1="27.8" y2="27.8" stroke="#000" stroke-width="1.6"/>
<text x="551.2" y="31.6" font-size="12.4" font-weight="bold" text-anchor="end">15</text>
<line x1="555.2" x2="557.5" y1="197.6" y2="197.6" stroke="#000" stroke-width="1.6"/>
<line x1="555.2" x2="557.5" y1="159.9" y2="159.9" stroke="#000" stroke-width="1.6"/>
<line x1="555.2" x2="557.5" y1="122.2" y2="122.2" stroke="#000" stroke-width="1.6"/>
<line x1="555.2" x2="557.5" y1="84.4" y2="84.4" stroke="#000" stroke-width="1.6"/>
<line x1="555.2" x2="557.5" y1="46.7" y2="46.7" stroke="#000" stroke-width="1.6"/>
<line x1="578.6" x2="578.6" y1="216.5" y2="220.4" stroke="#000" stroke-width="1.6"/>
<text x="578.6" y="232.6" font-size="12.4" font-weight="bold" text-anchor="middle">1kb</text>
<line x1="620.9" x2="620.9" y1="216.5" y2="220.4" stroke="#000" stroke-width="1.6"/>
<text x="620.9" y="232.6" font-size="12.4" font-weight="bold" text-anchor="middle">1.6kb</text>
<line x1="663.1" x2="663.1" y1="216.5" y2="220.4" stroke="#000" stroke-width="1.6"/>
<text x="663.1" y="232.6" font-size="12.4" font-weight="bold" text-anchor="middle">4.2kb</text>
<text transform="translate(620.9,256.0) scale(1.045,1)" font-size="15.5" font-weight="bold" text-anchor="middle">RNA length</text>
<text transform="translate(529,121.3) rotate(-90)" font-size="16" font-weight="bold" text-anchor="middle">Domain size / <tspan font-style="italic">d</tspan><tspan font-size="10.5" dy="3">RNA</tspan></text>
<text x="507.1" y="14.6" font-size="19.5" font-weight="bold">d</text>
</svg>
</body></html>
